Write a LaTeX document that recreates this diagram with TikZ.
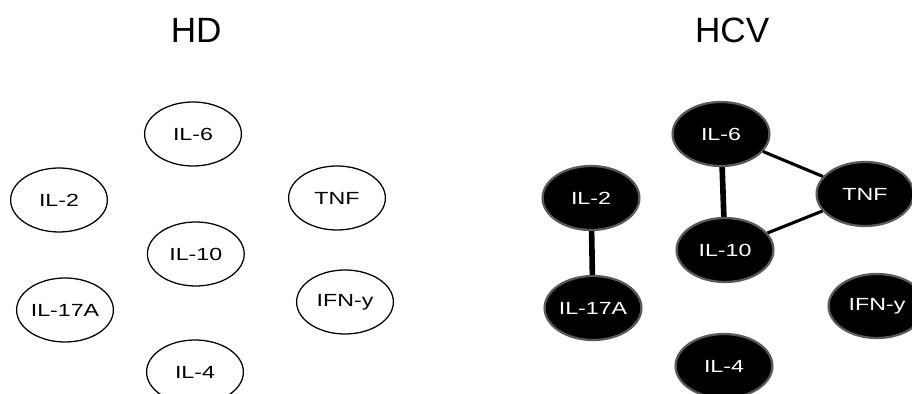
\documentclass[tikz,border=0pt]{standalone}
\usepackage{fontspec}
\setmainfont{Liberation Sans}
\newfontfamily\cytofont[FakeStretch=1.32]{Liberation Sans}
\usetikzlibrary{shapes.geometric, positioning}

\begin{document}
\begin{tikzpicture}[on grid, font=\cytofont\fontsize{12.5}{15}\selectfont,
    cyto/.style={ellipse, minimum width=2.42cm, minimum height=1.6cm, inner sep=0pt},
    hd/.style={cyto, draw=black, line width=0.9pt, fill=white},
    hcv/.style={cyto, draw=black!65, line width=1.6pt, fill=black, text=white},
    title/.style={font=\rmfamily\fontsize{25}{30}\selectfont},
    strong/.style={line width=4pt},
    weak/.style={line width=2.2pt}]
  \useasboundingbox (0,0) rectangle (22.8,-9.85);

  % healthy donors
  \node[hd] (hd_il6) at (4.825,-3.35) {IL-6};
  \node[hd] (hd_il2) [below left=1.65 and 3.35 of hd_il6] {IL-2};
  \node[hd] (hd_tnf) [below right=1.6 and 3.6 of hd_il6] {TNF};
  \node[hd] (hd_il10) [below right=3.0 and 0.07 of hd_il6] {IL-10};
  \node[hd] (hd_il17a) [below left=4.4 and 3.2 of hd_il6] {IL-17A};
  \node[hd] (hd_ifng) [below right=4.2 and 3.8 of hd_il6] {IFN-y};
  \node[hd] (hd_il4) [below right=5.95 and 0.05 of hd_il6] {IL-4};
  \node[title] (hd_title) [above right=2.6 and 0.08 of hd_il6] {HD};

  % HCV patients
  \node[hcv] (hcv_il6) at (18.025,-3.35) {IL-6};
  \node[hcv] (hcv_il2) [below left=1.6 and 3.25 of hcv_il6] {IL-2};
  \node[hcv] (hcv_tnf) [below right=1.5 and 3.6 of hcv_il6] {TNF};
  \node[hcv] (hcv_il10) [below right=2.9 and 0.1 of hcv_il6] {IL-10};
  \node[hcv] (hcv_il17a) [below left=4.35 and 3.2 of hcv_il6] {IL-17A};
  \node[hcv] (hcv_ifng) [below right=4.3 and 3.9 of hcv_il6] {IFN-y};
  \node[hcv] (hcv_il4) [below right=5.8 and 0.075 of hcv_il6] {IL-4};
  \node[title] (hcv_title) [above right=2.6 and 0.28 of hcv_il6] {HCV};

  \path
    (hcv_il6) edge[strong] (hcv_il10)
    (hcv_il2) edge[strong] (hcv_il17a)
    (hcv_il6) edge[weak] (hcv_tnf)
    (hcv_il10) edge[weak] (hcv_tnf)
    ;
\end{tikzpicture}
\end{document}
